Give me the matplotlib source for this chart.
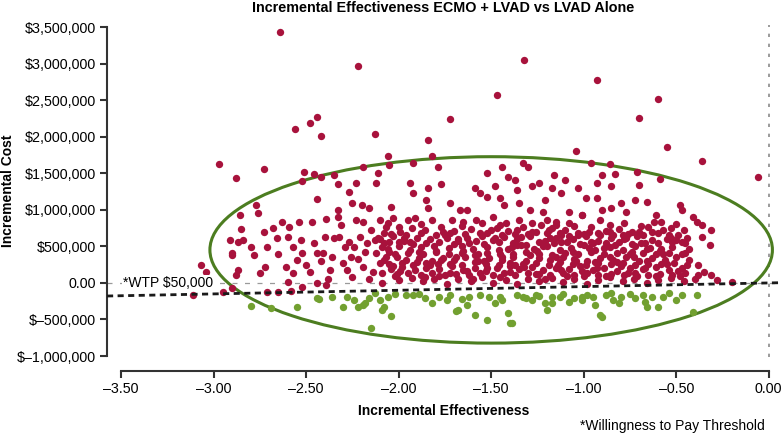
import matplotlib
matplotlib.use("Agg")
from matplotlib import pyplot as plt
from matplotlib.patches import Ellipse

plt.rcParams['font.family'] = ['Liberation Sans', 'DejaVu Sans']

# simulations above the WTP line: (incremental effectiveness, incremental cost in $K)
red_pts = [
    (-2.64, 3430), (-2.22, 2970), (-1.32, 3050), (-0.93, 2770), (-1.47, 2570), (-0.60, 2520),
    (-0.70, 2250), (-2.56, 2100), (-2.48, 2190), (-2.44, 2270), (-2.42, 2010), (-2.13, 2040),
    (-1.72, 2240), (-1.84, 1960), (-0.55, 1860), (-0.36, 1670), (-0.06, 1450), (-1.04, 1800),
    (-2.97, 1630), (-2.88, 1440), (-2.73, 1560),
    (-2.51, 1520), (-2.46, 1490), (-2.52, 1400), (-2.42, 1450), (-2.35, 1470), (-2.33, 1360),
    (-2.27, 1250), (-2.23, 1370), (-2.19, 1590), (-2.12, 1370), (-2.11, 1510), (-2.06, 1730),
    (-2.05, 1620), (-1.92, 1640), (-1.82, 1730), (-1.79, 1590), (-1.52, 1510), (-1.44, 1580),
    (-1.33, 1640), (-1.30, 1590), (-1.16, 1480), (-1.41, 1450), (-1.37, 1410), (-0.96, 1640),
    (-0.86, 1630), (-0.71, 1520), (-0.83, 1490), (-0.59, 1420), (-1.10, 1410), (-0.90, 1480),
    (-2.44, 1150), (-2.77, 1070), (-2.76, 960), (-2.86, 930), (-1.94, 1370), (-1.77, 1360),
    (-1.92, 1230), (-1.84, 1300), (-1.85, 1140), (-1.59, 1300), (-1.56, 1230), (-1.48, 1330),
    (-1.52, 1180), (-1.45, 1160), (-1.36, 1270), (-1.28, 1320), (-1.24, 1370), (-1.21, 1140),
    (-1.17, 1300), (-0.93, 1370), (-1.03, 1300), (-0.70, 1340), (-0.85, 1320), (-1.12, 1230),
    (-0.99, 1160), (-0.93, 1160), (-0.72, 1140), (-0.66, 1110), (-0.80, 1100), (-0.48, 1070),
    (-0.47, 1000), (-0.77, 970), (-0.90, 1000), (-0.85, 1030), (-1.08, 970), (-1.01, 930),
    (-2.25, 1100), (-2.20, 1070), (-2.16, 1030), (-2.33, 1000), (-2.04, 1040), (-1.72, 1100),
    (-1.84, 1030), (-1.67, 1000), (-1.63, 1000), (-1.43, 1070), (-1.35, 1100), (-1.29, 1000),
    (-1.22, 970),
    (-2.85, 740), (-2.91, 590), (-2.90, 380), (-2.84, 590), (-2.80, 490), (-2.78, 380),
    (-2.73, 700), (-2.71, 490), (-2.72, 220), (-2.68, 750), (-2.66, 620), (-2.63, 840),
    (-2.60, 630), (-2.61, 220), (-2.59, 770), (-2.57, 490), (-2.54, 840), (-2.53, 590),
    (-2.52, 410), (-2.50, 250), (-2.47, 840), (-2.46, 550), (-2.44, 410), (-2.39, 880),
    (-2.40, 630), (-2.41, 410), (-2.37, 180), (-2.33, 900), (-2.31, 790), (-2.32, 630),
    (-2.29, 490), (-2.30, 270), (-2.28, 180), (-2.26, 360), (-2.23, 860), (-2.21, 630),
    (-2.24, 490), (-2.19, 840), (-2.17, 550), (-2.19, 220), (-2.15, 730), (-2.13, 590),
    (-2.12, 410), (-2.10, 270), (-2.08, 690), (-2.09, 490), (-2.06, 820), (-2.09, 140),
    (-2.44, 0), (-2.39, -30), (-2.09, 0), (-2.95, -120), (-2.90, -70), (-2.88, 110),
    (-2.87, 180), (-3.07, 250), (-2.71, -120), (-2.65, -120), (-2.60, 10), (-2.57, 140),
    (-2.52, -50), (-2.58, -110), (-3.04, 150), (-3.11, -160), (-2.87, 560), (-2.90, 410),
    (-2.55, 320), (-2.48, 150), (-2.42, 300), (-2.35, 620), (-2.36, 350), (-2.27, 560),
    (-2.22, 330), (-2.18, 420), (-2.14, 150), (-2.11, 620), (-2.07, 350), (-2.05, 560),
    (-2.03, 230), (-2.65, 400), (-2.75, 130), (-2.38, 50), (-2.25, 80), (-2.16, 60),
    (-2.02, 90), (-2.05, 430),
    (-2.07, 760), (-1.99, 700), (-1.93, 745), (-1.86, 720), (-1.77, 770), (-1.70, 705),
    (-1.61, 740), (-1.56, 690), (-1.47, 755), (-1.41, 715), (-1.33, 770), (-1.26, 700),
    (-1.17, 745), (-1.10, 725), (-1.03, 690), (-0.96, 760), (-0.88, 715), (-0.81, 740),
    (-0.74, 700), (-0.65, 760), (-0.57, 720),
    (-2.10, 600), (-2.03, 640), (-1.97, 580), (-1.90, 620), (-1.83, 595), (-1.75, 650),
    (-1.68, 575), (-1.63, 615), (-1.55, 640), (-1.49, 585), (-1.43, 625), (-1.36, 600),
    (-1.29, 645), (-1.21, 580), (-1.15, 615), (-1.06, 600), (-0.99, 640), (-0.92, 575),
    (-0.85, 620), (-0.78, 595), (-0.71, 640), (-0.63, 585), (-0.55, 600), (-0.49, 650),
    (-2.06, 470), (-2.00, 500), (-1.94, 455), (-1.88, 490), (-1.80, 440), (-1.73, 480),
    (-1.66, 510), (-1.60, 460), (-1.52, 495), (-1.46, 450), (-1.39, 485), (-1.34, 520),
    (-1.27, 460), (-1.20, 500), (-1.13, 445), (-1.07, 480), (-1.00, 515), (-0.94, 455),
    (-0.86, 490), (-0.79, 450), (-0.72, 500), (-0.66, 470), (-0.59, 440), (-0.52, 495),
    (-0.43, 470),
    (-2.08, 320), (-2.01, 350), (-1.96, 310), (-1.89, 345), (-1.82, 300), (-1.76, 340),
    (-1.70, 315), (-1.64, 355), (-1.57, 305), (-1.51, 340), (-1.44, 320), (-1.38, 360),
    (-1.31, 300), (-1.24, 335), (-1.18, 310), (-1.11, 350), (-1.05, 325), (-0.98, 300),
    (-0.91, 345), (-0.84, 315), (-0.77, 355), (-0.70, 300), (-0.63, 335), (-0.56, 320),
    (-0.50, 350),
    (-2.04, 190), (-1.98, 220), (-1.91, 175), (-1.85, 205), (-1.78, 185), (-1.71, 225),
    (-1.65, 180), (-1.59, 210), (-1.53, 170), (-1.47, 200), (-1.40, 230), (-1.35, 185),
    (-1.28, 215), (-1.22, 175), (-1.15, 205), (-1.08, 190), (-1.02, 225), (-0.95, 180),
    (-0.89, 210), (-0.82, 170), (-0.75, 200), (-0.68, 185), (-0.61, 215), (-0.54, 180),
    (-0.47, 200),
    (-2.00, 40), (-1.93, 70), (-1.87, 20), (-1.81, 60), (-1.74, -10), (-1.68, 50),
    (-1.61, 30), (-1.55, 80), (-1.49, 0), (-1.42, 45), (-1.36, -20), (-1.30, 60),
    (-1.24, 20), (-1.17, 70), (-1.11, 10), (-1.05, 50), (-0.98, -10), (-0.92, 40),
    (-0.86, 80), (-0.79, 20), (-0.73, 60), (-0.66, 0), (-0.60, 40), (-0.53, 70),
    (-0.46, 20), (-0.40, 60),
    (-2.04, 670), (-1.96, 660), (-1.88, 680), (-1.80, 655), (-1.72, 690), (-1.64, 665),
    (-1.52, 680), (-1.44, 660), (-1.37, 675), (-1.30, 665), (-1.20, 680), (-1.12, 660),
    (-1.00, 670), (-0.92, 690), (-0.84, 660), (-0.76, 675), (-0.68, 655), (-0.60, 680),
    (-2.08, 540), (-2.00, 555), (-1.92, 530), (-1.85, 545), (-1.78, 560), (-1.70, 530),
    (-1.62, 550), (-1.54, 535), (-1.46, 560), (-1.38, 540), (-1.31, 525), (-1.24, 555),
    (-1.16, 540), (-1.09, 560), (-1.02, 530), (-0.95, 550), (-0.88, 540), (-0.81, 560),
    (-0.74, 530), (-0.67, 550), (-0.60, 540), (-0.52, 560), (-0.45, 540),
    (-2.02, 400), (-1.95, 410), (-1.87, 390), (-1.80, 420), (-1.73, 395), (-1.66, 410),
    (-1.59, 385), (-1.52, 415), (-1.45, 400), (-1.38, 390), (-1.31, 420), (-1.24, 400),
    (-1.17, 385), (-1.10, 410), (-1.03, 395), (-0.96, 420), (-0.89, 390), (-0.82, 405),
    (-0.75, 395), (-0.68, 415), (-0.61, 390), (-0.54, 410), (-0.47, 395),
    (-2.05, 260), (-1.98, 270), (-1.92, 250), (-1.85, 275), (-1.79, 255), (-1.72, 265),
    (-1.66, 245), (-1.59, 280), (-1.53, 260), (-1.46, 250), (-1.40, 275), (-1.33, 255),
    (-1.26, 270), (-1.19, 250), (-1.13, 280), (-1.06, 260), (-0.99, 245), (-0.92, 275),
    (-0.85, 255), (-0.79, 270), (-0.72, 250), (-0.65, 265), (-0.58, 255), (-0.51, 275),
    (-0.44, 250),
    (-2.01, 120), (-1.95, 130), (-1.88, 110), (-1.82, 135), (-1.75, 115), (-1.69, 125),
    (-1.62, 105), (-1.56, 140), (-1.49, 115), (-1.43, 130), (-1.37, 110), (-1.30, 135),
    (-1.24, 120), (-1.18, 105), (-1.11, 130), (-1.05, 115), (-0.98, 140), (-0.92, 110),
    (-0.85, 125), (-0.78, 115), (-0.72, 135), (-0.65, 110), (-0.59, 125), (-0.52, 115),
    (-0.45, 130), (-0.38, 110),
    (-0.41, 900), (-0.39, 840), (-0.36, 790), (-0.31, 730), (-0.53, 750), (-0.46, 730),
    (-0.36, 630), (-0.32, 520), (-0.53, 620), (-0.47, 560), (-0.45, 410), (-0.38, 250),
    (-0.35, 150), (-0.31, 110), (-0.20, 10), (-0.28, 40), (-0.61, 930), (-0.58, 840),
    (-1.15, 840), (-1.08, 820), (-0.91, 860), (-1.01, 930),
    (-2.10, 860), (-2.03, 890), (-1.95, 860), (-1.91, 890), (-1.82, 860), (-1.71, 860),
    (-1.65, 840), (-1.58, 860), (-1.49, 900), (-1.42, 820), (-1.35, 860), (-1.28, 820),
    (-1.20, 860), (-1.15, 790),
    # extra fill of the dense core
    (-1.97, 620), (-1.89, 430), (-1.83, 240), (-1.78, 90), (-1.74, 610), (-1.69, 360),
    (-1.63, 160), (-1.58, 570), (-1.54, 300), (-1.50, 720), (-1.45, 80), (-1.41, 470),
    (-1.37, 250), (-1.34, 630), (-1.29, 380), (-1.26, 120), (-1.22, 510), (-1.19, 730),
    (-1.14, 240), (-1.12, 560), (-1.09, 90), (-1.06, 420), (-1.03, 650), (-1.01, 160),
    (-0.97, 480), (-0.94, 290), (-0.91, 650), (-0.88, 90), (-0.86, 360), (-0.83, 520),
    (-0.80, 230), (-0.77, 620), (-0.74, 430), (-0.71, 90), (-0.69, 550), (-0.66, 300),
    (-0.63, 700), (-0.58, 470), (-0.55, 260), (-0.50, 590), (-0.48, 90), (-0.43, 310),
    (-1.99, 160), (-1.94, 560), (-1.90, 280), (-1.86, 80), (-1.81, 500), (-1.77, 320),
    (-1.72, 140), (-1.68, 600), (-1.65, 440), (-1.60, 60), (-1.57, 400), (-1.52, 210),
    (-1.48, 620), (-1.44, 360), (-1.40, 150), (-1.36, 520), (-1.32, 220), (-1.28, 700),
    (-1.25, 440), (-1.21, 60), (-1.18, 620), (-1.15, 350), (-1.12, 180), (-1.08, 640),
    (-1.04, 300), (-1.00, 90), (-0.96, 560), (-0.93, 200), (-0.89, 480), (-0.86, 700),
    (-0.82, 280), (-0.79, 650), (-0.76, 130), (-0.73, 360), (-0.70, 700), (-0.67, 210),
    (-0.64, 480), (-0.61, 100), (-0.57, 400), (-0.54, 660), (-0.49, 170), (-0.44, 620),
    (-2.00, 760), (-1.88, 800), (-1.76, 700), (-1.66, 780), (-1.55, 820), (-1.45, 790),
    (-1.36, 730), (-1.23, 790), (-1.13, 690), (-1.05, 780), (-0.97, 700), (-0.86, 790),
    (-0.78, 820), (-0.69, 780), (-0.62, 830), (-0.50, 800),
]

# simulations below the WTP line
green_pts = [
    (-2.80, -320), (-2.69, -340), (-2.55, -330), (-2.44, -210), (-2.36, -190), (-2.28, -190),
    (-2.24, -230), (-2.30, -330), (-2.18, -270), (-2.16, -210), (-2.13, -140), (-2.10, -230),
    (-2.09, -370), (-2.15, -620), (-2.19, -300), (-2.06, -190), (-2.43, -220), (-2.22, -330),
    (-2.04, -450), (-2.08, -330), (-2.02, -150), (-1.96, -160), (-1.89, -150), (-1.82, -270),
    (-1.78, -190), (-1.74, -230), (-1.69, -380), (-1.63, -300), (-1.62, -190), (-1.59, -440),
    (-1.52, -510), (-1.51, -190), (-1.48, -270), (-1.45, -190), (-1.41, -410), (-1.39, -550),
    (-1.36, -160), (-1.33, -190), (-1.28, -230), (-1.26, -160), (-1.21, -270), (-1.20, -370),
    (-1.17, -190), (-1.17, -270), (-1.13, -190), (-1.08, -260), (-1.01, -190), (-1.01, -230),
    (-0.95, -190), (-0.94, -300), (-0.91, -440), (-0.85, -140), (-0.84, -230), (-0.80, -190),
    (-0.81, -270), (-0.68, -160), (-0.67, -260), (-0.66, -330), (-0.63, -190), (-0.60, -330),
    (-0.57, -190), (-0.54, -140), (-0.50, -230), (-0.47, -160), (-0.41, -400), (-0.39, -160),
    (-0.90, -460), (-1.40, -550), (-1.68, -370), (-1.92, -170), (-1.86, -210), (-1.72, -160),
    (-1.66, -220), (-1.56, -170), (-1.44, -240), (-1.31, -210), (-1.24, -180), (-1.11, -150),
    (-1.05, -200), (-0.98, -160), (-0.88, -170), (-0.75, -150), (-0.72, -200),
]

wtp = 50000  # $ per unit of effectiveness
ell_center = (-1.50, 452000)
ell_size = (3.04, 2550000)

xticks = [-3.5, -3.0, -2.5, -2.0, -1.5, -1.0, -0.5, 0.0]
xtick_labels = ['\u20133.50', '\u20133.00', '\u20132.50', '\u20132.00', '\u20131.50',
                '\u20131.00', '\u20130.50', '0.00']
yticks = [3500000, 3000000, 2500000, 2000000, 1500000, 1000000, 500000, 0, -500000, -1000000]
ytick_labels = ['$3,500,000', '$3,000,000', '$2,500,000', '$2,000,000', '$1,500,000',
                '$1,000,000', '$500,000', '0.00', '$\u2013500,000', '$\u20131,000,000']

red_x = [p[0] for p in red_pts]
red_y = [p[1] * 1000 for p in red_pts]
green_x = [p[0] for p in green_pts]
green_y = [p[1] * 1000 for p in green_pts]

fig = plt.figure(figsize=(7.83, 4.36), dpi=100)
ax = fig.add_axes([0.1367, 0.149, 0.859, 0.805])

xlim = (-3.576, 0.059)
ax.set_xlim(*xlim)
ax.set_ylim(-1205000, 3596000)

ax.axhline(0, color='#9a9a9a', lw=0.9, ls=(0, (4, 6)), zorder=1)
ax.axvline(0, ymin=0.04, ymax=0.985, color='#8a8a8a', lw=1.2, ls=(0, (2, 4)), zorder=1)

ax.add_patch(Ellipse(ell_center, ell_size[0], ell_size[1], fill=False,
                     edgecolor='#4c7d20', lw=2.2, zorder=2))

ax.scatter(red_x, red_y, s=28, color='#a8123c', lw=0, zorder=3)
ax.scatter(green_x, green_y, s=28, color='#72a030', lw=0, zorder=3)

ax.plot(xlim, [xlim[0] * wtp, xlim[1] * wtp], color='#1a1a1a', lw=2.0,
        ls=(0, (2.2, 1.6)), zorder=4)

ax.text(-3.49, 0, '*WTP $50,000', fontsize=10, va='center', ha='left', zorder=5,
        bbox=dict(facecolor='white', edgecolor='none', pad=0.5))

for s in ['top', 'right']:
    ax.spines[s].set_visible(False)
ax.spines['left'].set_bounds(-1000000, 3500000)
ax.spines['bottom'].set_bounds(-3.5, 0.0)
for s in ['left', 'bottom']:
    ax.spines[s].set_linewidth(1.5)
    ax.spines[s].set_color('#333333')

ax.set_xticks(xticks)
ax.set_xticklabels(xtick_labels, fontsize=10.3)
ax.set_yticks(yticks)
ax.set_yticklabels(ytick_labels, fontsize=10.3)
ax.tick_params(length=5, width=1.5, color='#333333', pad=3)

ax.set_xlabel('Incremental Effectiveness', fontsize=10, fontweight='bold', labelpad=6)
ax.set_ylabel('Incremental Cost', fontsize=10, fontweight='bold')
ax.yaxis.set_label_coords(-0.137, 0.513)
ax.set_title('Incremental Effectiveness ECMO + LVAD vs LVAD Alone', fontsize=10.4,
             fontweight='bold', pad=6)

fig.text(0.977, 0.023, '*Willingness to Pay Threshold', fontsize=10, ha='right', va='center')

fig.savefig('out.png', dpi=100)
